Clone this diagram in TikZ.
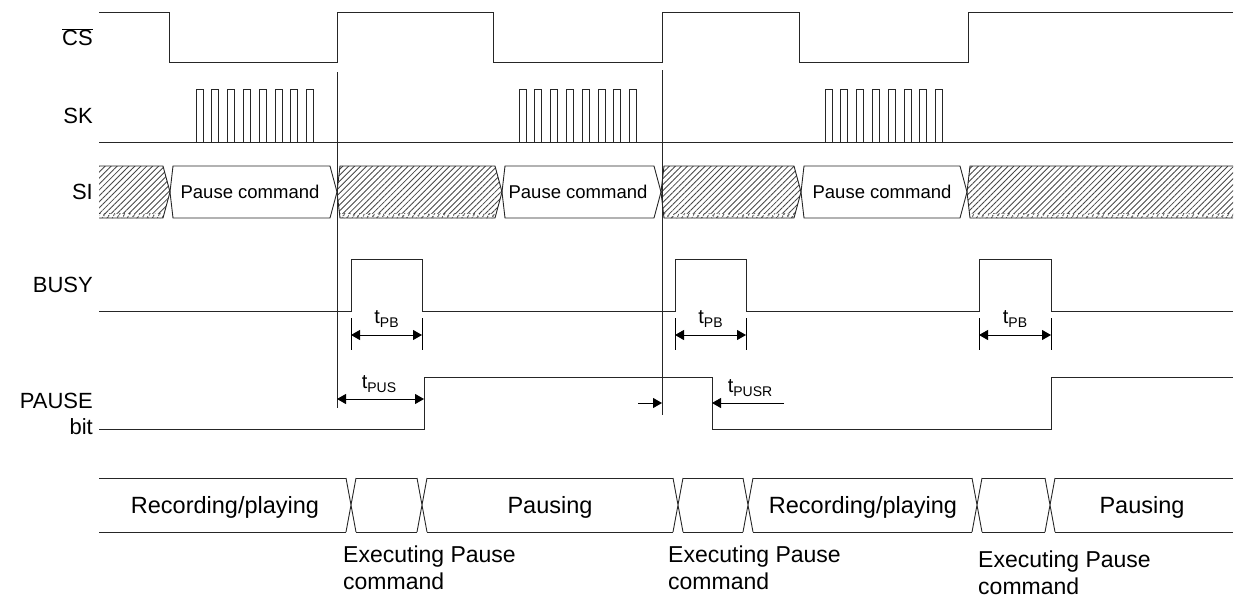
\documentclass[tikz,border=0pt]{standalone}
\usepackage{fontspec}
\setmainfont{Liberation Sans}
\usetikzlibrary{arrows.meta,patterns.meta}
\begin{document}
\begin{tikzpicture}[x=1pt,y=-1pt,
  wave/.style={line width=0.9pt, draw=black!85},
  dimline/.style={line width=0.9pt, draw=black},
  tip/.style={-{Triangle[length=9pt,width=10pt]}},
  tips/.style={{Triangle[length=9pt,width=10pt]}-{Triangle[length=9pt,width=10pt]}},
  lbl/.style={font=\fontsize{22}{26}\selectfont, anchor=east, inner sep=0pt},
  sitxt/.style={font=\fontsize{18.5}{22}\selectfont, inner sep=0pt},
  sttxt/.style={font=\fontsize{23.5}{27}\selectfont, inner sep=0pt, anchor=base},
  exlbl/.style={font=\fontsize{23}{27}\selectfont, inner sep=0pt, anchor=north west, align=left},
  tlbl/.style={font=\fontsize{20}{24}\selectfont, inner sep=0pt, anchor=base},
  hatch/.style={pattern={Lines[angle=45,distance=4.2pt,line width=0.85pt]}, pattern color=black!72},
  strip/.style={pattern={Lines[angle=60,distance=4pt,line width=1pt]}, pattern color=black}
]
\useasboundingbox (0,0) rectangle (1236,598);

% ---------- signal labels ----------
\node[lbl] (lcs) at (93,37) {$\overline{\mbox{CS}}$};
\node[lbl] (lsk) at (93,116) {SK};
\node[lbl] (lsi) at (93,192) {SI};
\node[lbl] (lbusy) at (93,285) {BUSY};
\node[lbl, anchor=base east] (lpause) at (93,408) {PAUSE};
\node[lbl, anchor=base east] (lbit) at (93,434) {bit};

% ---------- CS ----------
\draw[wave] (99,12) -- (169,12) -- (169,62) -- (337,62) -- (337,12) -- (493,12) -- (493,62)
  -- (662,62) -- (662,12) -- (799,12) -- (799,62) -- (968,62) -- (968,12) -- (1233,12);

% ---------- SK ----------
\draw[wave] (99,142) -- (1233,142);
\foreach \s in {196,519,825}{
  \foreach \k in {0,...,7}{
    \draw[wave] ({\s+15.8*\k},142) |- ({\s+15.8*\k+7},89) -- ({\s+15.8*\k+7},142);
  }
}

% ---------- SI ----------
\begin{scope}
  \clip (99,166) -- (163,166) -- (170,192) -- (163,218) -- (99,218) -- cycle
        (340,166) -- (495,166) -- (502,192) -- (495,218) -- (340,218) -- (337,192) -- cycle
        (664,166) -- (794,166) -- (801,192) -- (794,218) -- (664,218) -- (661,192) -- cycle
        (970,166) -- (1233,166) -- (1233,218) -- (970,218) -- (967,192) -- cycle;
  \fill[hatch] (90,160) rectangle (1240,222);
  \fill[white] (90,213.5) rectangle (1240,218);
  \fill[strip] (90,213.5) rectangle (1240,218);
\end{scope}
\draw[wave] (99,166) -- (163,166) -- (170,192) -- (163,218) -- (99,218);
\draw[wave] (173,166) -- (330,166) -- (337,192) -- (330,218) -- (173,218) -- (170,192) -- cycle;
\draw[wave] (340,166) -- (495,166) -- (502,192) -- (495,218) -- (340,218) -- (337,192) -- cycle;
\draw[wave] (505,166) -- (654,166) -- (661,192) -- (654,218) -- (505,218) -- (502,192) -- cycle;
\draw[wave] (664,166) -- (794,166) -- (801,192) -- (794,218) -- (664,218) -- (661,192) -- cycle;
\draw[wave] (804,166) -- (960,166) -- (967,192) -- (960,218) -- (804,218) -- (801,192) -- cycle;
\draw[wave] (1233,166) -- (970,166) -- (967,192) -- (970,218) -- (1233,218);
\node[sitxt] (pc1) at (250,192) {Pause command};
\node[sitxt] (pc2) at (578,192) {Pause command};
\node[sitxt] (pc3) at (882,192) {Pause command};

% ---------- marker lines ----------
\coordinate (m1t) at (337,72);
\coordinate (m1b) at (337,408);
\coordinate (m2t) at (662,70);
\coordinate (m2b) at (662,415);
\draw[wave] (m1t) -- (m1b);
\draw[wave] (m2t) -- (m2b);

% ---------- BUSY ----------
\draw[wave] (99,311) -- (351,311) -- (351,259) -- (422,259) -- (422,311) -- (675,311) -- (675,259)
  -- (746,259) -- (746,311) -- (979,311) -- (979,259) -- (1051,259) -- (1051,311) -- (1233,311);

% tPB dimensions
\foreach \a/\b/\n in {351/422/1,675/746/2,979/1051/3}{
  \coordinate (pbl\n) at (\a,335);
  \coordinate (pbr\n) at (\b,335);
  \draw[dimline] (\a,318) -- (\a,350) (\b,318) -- (\b,350);
  \draw[dimline,tips] (pbl\n) -- (pbr\n);
  \node[tlbl] (tpb\n) at ({(\a+\b)/2},323) {t\raisebox{-4pt}{\fontsize{14}{14}\selectfont PB}};
}

% ---------- PAUSE bit ----------
\draw[wave] (99,429) -- (424,429) -- (424,377) -- (712,377) -- (712,429) -- (1051,429) -- (1051,377) -- (1233,377);

% tPUS
\coordinate (pusl) at (337,399);
\coordinate (pusr) at (424,399);
\draw[dimline,tips] (pusl) -- (pusr);
\node[tlbl] (tpus) at (379,388) {t\raisebox{-4pt}{\fontsize{14}{14}\selectfont PUS}};

% tPUSR
\coordinate (pusra) at (638,403);
\coordinate (pusrb) at (662,403);
\coordinate (pusrc) at (784,403);
\coordinate (pusrd) at (712,403);
\draw[dimline,tip] (pusra) -- (pusrb);
\draw[dimline,tip] (pusrc) -- (pusrd);
\node[tlbl] (tpusr) at (750,392) {t\raisebox{-4pt}{\fontsize{14}{14}\selectfont PUSR}};

% ---------- state row ----------
\foreach \a/\b in {99/346,356/417,427/673,683/743,753/972,982/1045,1055/1233}{
  \draw[wave] (\a,478) -- (\b,478) (\a,532) -- (\b,532);
}
\foreach \c in {351,422,678,748,977,1050}{
  \draw[wave] (\c-5,478) -- (\c+5,532) (\c-5,532) -- (\c+5,478);
}
\node[sttxt] (st1) at (225,513) {Recording/playing};
\node[sttxt] (st2) at (550,513) {Pausing};
\node[sttxt] (st3) at (863,513) {Recording/playing};
\node[sttxt] (st4) at (1142,513) {Pausing};

\node[exlbl] (ex1) at (343,546) {Executing Pause\\command};
\node[exlbl] (ex2) at (668,546) {Executing Pause\\command};
\node[exlbl] (ex3) at (978,551) {Executing Pause\\command};
\end{tikzpicture}
\end{document}
